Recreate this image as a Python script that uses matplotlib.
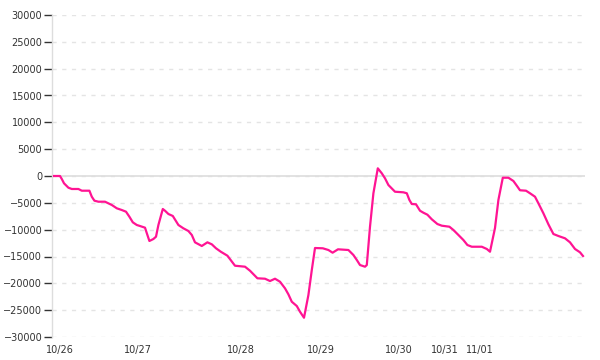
"""
Cumulative P/L line chart, 10/26 - 11/01.
x is the bar index (trading bars), y is the running profit/loss.
"""
import matplotlib
matplotlib.use('Agg')
import matplotlib.pyplot as plt

# bar index of each traced vertex
bar_idx = [0, 3, 3.9, 5, 7.2, 8.9, 12.2, 13.9, 17.7, 18.9, 20.2, 22.2, 25.5,
           28.9, 31.4, 33.9, 36, 37.7, 39.4, 41.4, 43, 45.5, 46.7, 47.7, 49.7,
           51, 52.2, 54.4, 55.5, 57.2, 59.4, 62.2, 64.7, 67.2, 68.9, 70.5,
           73.9, 76.7, 78.9, 81, 83.4, 86.7, 90.5, 95.5, 98, 101.7, 105.5,
           108, 110.5, 113, 115.5, 117.2, 118.9, 121.4, 123, 125, 127.2,
           128.9, 130.5, 134.4, 137.2, 139.3, 142, 147.2, 149.7, 151.4, 153,
           155.5, 156.4, 158, 159.7, 161.9, 163.9, 165.5, 167.2, 170.5, 174.7,
           176.4, 177.7, 178.9, 181, 183, 184.7, 186.7, 188.9, 191.7, 193.9,
           197.7, 199.7, 202.2, 204.7, 206.7, 208.9, 213.9, 216.4, 218, 220.5,
           222.2, 224.4, 227.2, 229.7, 231.4, 233, 236, 238, 240.5, 242.2,
           244.7, 247.2, 249.7, 252.2, 255.5, 258, 260.5, 263, 264.5]

# cumulative profit/loss
pnl = [0, 0, -560, -1360, -2180, -2420, -2420, -2740, -2740, -3860, -4600,
       -4790, -4790, -5400, -6020, -6340, -6650, -7590, -8630, -9130, -9320,
       -9630, -10990, -12110, -11740, -11310, -9130, -6150, -6470, -7080,
       -7450, -9130, -9750, -10250, -10990, -12360, -13040, -12360, -12730,
       -13470, -14110, -14850, -16720, -16900, -17650, -19060, -19140,
       -19570, -19140, -19700, -20930, -22050, -23430, -24230, -25290,
       -26410, -22180, -17520, -13420, -13470, -13790, -14290, -13660,
       -13790, -14720, -15650, -16590, -16900, -16590, -9450, -3220, 1430,
       500, -430, -1680, -2930, -3040, -3220, -4470, -5220, -5270, -6470,
       -6840, -7210, -8070, -8950, -9260, -9450, -10060, -10990, -11930,
       -12860, -13180, -13180, -13600, -14110, -9690, -4470, -320, -320,
       -930, -1810, -2660, -2740, -3220, -3860, -5090, -6950, -9000, -10810,
       -11180, -11610, -12360, -13600, -14220, -14910]

# date labels and the bar where each one sits
date_labels = ['10/26', '10/27', '10/28', '10/29', '10/30', '10/31', '11/01']
date_pos = [2.8, 42, 93.3, 133.3, 172.5, 195.5, 212.8]

y_ticks = list(range(-30000, 30001, 5000))

fig = plt.figure(figsize=(6, 3.6), dpi=100)
ax = fig.add_axes([52 / 600, 23 / 360, 533 / 600, 322 / 360])

ax.plot(bar_idx, pnl, color='#ff1493', lw=1.6, solid_joinstyle='round', zorder=3)

ax.set_xlim(-1, 265.5)
ax.set_ylim(-30000, 30000)

# grid: dashed light lines, solid one at zero
ax.set_yticks(y_ticks)
ax.yaxis.grid(True, color='#e4e4e4', linestyle=(0, (3, 4)), lw=1)
ax.axhline(0, color='#dddddd', lw=1.2, zorder=2)
ax.set_axisbelow(True)

for side in ['top', 'right', 'bottom']:
    ax.spines[side].set_visible(False)
ax.spines['left'].set_color('#dddddd')
ax.spines['left'].set_linewidth(1)

ax.set_xticks(date_pos)
ax.set_xticklabels(date_labels)
ax.tick_params(axis='x', length=0, pad=6, labelsize=7, labelcolor='#333333')
ax.tick_params(axis='y', length=6, width=1, color='#333333', pad=1,
               labelsize=7, labelcolor='#333333')

fig.savefig('out.png', dpi=100)
